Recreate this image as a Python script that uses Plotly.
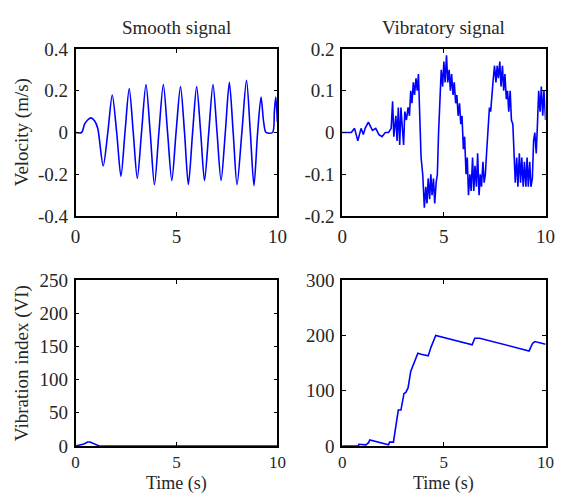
import plotly.graph_objects as go

# ---------------- data ----------------
t_smooth = [0, 0.3, 0.45, 0.6, 0.77, 0.95, 1.1, 1.37, 1.6, 1.82, 2.04, 2.25, 2.45, 2.66, 2.86,
            3.06, 3.27, 3.49, 3.70, 3.91, 4.13, 4.35, 4.56, 4.77, 4.98, 5.2, 5.4, 5.59, 5.8,
            6.0, 6.2, 6.39, 6.6, 6.81, 7.01, 7.21, 7.42, 7.62, 7.81, 8.0, 8.24, 8.47, 8.66,
            8.84, 9.02, 9.19, 9.32, 9.44, 9.76, 9.85, 9.92, 10]
v_smooth = [0, 0, 0.04, 0.06, 0.07, 0.055, 0.02, -0.16, 0, 0.18, 0, -0.21, 0, 0.21, 0,
            -0.22, 0, 0.23, 0, -0.25, 0, 0.23, 0, -0.23, 0, 0.22, 0, -0.25, 0,
            0.22, 0, -0.23, 0, 0.23, 0, -0.23, 0, 0.24, 0, -0.25, 0, 0.25, 0,
            -0.255, 0, 0.17, 0.05, 0, 0, 0.1, 0.17, 0.05]

t_vib = [0, 0.45, 0.61, 0.77, 0.93, 1.04, 1.13, 1.29, 1.49, 1.65, 1.81, 1.96, 2.12, 2.28, 2.41,
         2.48, 2.54, 2.64, 2.70, 2.76, 2.83, 2.89, 2.96, 3.02, 3.08, 3.16, 3.24, 3.31, 3.37,
         3.43, 3.50, 3.56, 3.63, 3.69, 3.75, 3.79, 3.88, 3.96, 4.04, 4.11, 4.17, 4.23, 4.30,
         4.36, 4.42, 4.49, 4.55, 4.62, 4.68, 4.74, 4.81, 4.87, 4.94, 5.0, 5.06, 5.13, 5.19,
         5.26, 5.32, 5.38, 5.45, 5.51, 5.58, 5.64, 5.70, 5.77, 5.83, 5.89, 5.96, 6.02, 6.09,
         6.15, 6.21, 6.28, 6.34, 6.41, 6.47, 6.53, 6.60, 6.66, 6.73, 6.79, 6.85, 6.92, 6.98,
         7.04, 7.11, 7.17, 7.24, 7.30, 7.36, 7.43, 7.49, 7.56, 7.62, 7.68, 7.75, 7.81, 7.88,
         7.94, 8.0, 8.07, 8.13, 8.19, 8.26, 8.32, 8.39, 8.45, 8.51, 8.58, 8.64, 8.71, 8.77,
         8.83, 8.90, 8.96, 9.03, 9.09, 9.15, 9.22, 9.28, 9.35, 9.41, 9.47, 9.54, 9.60, 9.66,
         9.73, 9.79, 9.86, 9.92, 10]
v_vib = [0, 0, 0.01, -0.02, 0.01, -0.005, 0.01, 0.025, 0.005, 0.01, -0.005, -0.01, 0.0, 0.0, 0.01,
         0.075, -0.01, 0.04, -0.02, 0.06, -0.03, 0.06, 0.01, -0.03, 0.05, 0.03, 0.06, 0.04, 0.1,
         0.07, 0.12, 0.09, 0.13, 0.1, 0.14, 0.09, -0.06, -0.1, -0.18, -0.13, -0.17, -0.11, -0.16,
         -0.1, -0.15, -0.11, -0.17, -0.12, -0.1, 0.0, 0.1, 0.15, 0.11, 0.17, 0.12, 0.185, 0.12,
         0.15, 0.1, 0.14, 0.09, 0.12, 0.07, 0.09, 0.04, 0.07, 0.02, 0.04, -0.04, -0.01, -0.1,
         -0.06, -0.15, -0.1, -0.14, -0.06, -0.14, -0.08, -0.13, -0.05, -0.15, -0.1, -0.13, -0.07, -0.12,
         -0.1, -0.04, 0.01, 0.06, 0.05, 0.1, 0.13, 0.16, 0.12, 0.16, 0.13, 0.17, 0.11, 0.16,
         0.1, 0.14, 0.08, 0.1, 0.05, 0.1, 0.03, 0.02, -0.05, -0.12, -0.06, -0.13, -0.05, -0.12,
         -0.06, -0.13, -0.07, -0.13, -0.06, -0.13, -0.07, -0.13, -0.11, -0.02, 0.0, -0.05, 0.02, 0.1,
         0.05, 0.11, 0.04, 0.1, 0.03]

t_vi_smooth = [0, 0.42, 0.6, 0.72, 1.17, 10]
vi_smooth = [0, 3, 6, 6, 0, 0]

t_vi_vib = [0, 0.8, 0.82, 1.09, 1.17, 1.3, 1.36, 2.28, 2.33, 2.52, 2.76, 2.89, 3.04, 3.13, 3.24,
            3.37, 3.56, 3.72, 3.88, 4.23, 4.36, 4.6, 6.39, 6.52, 6.76, 9.19, 9.35, 9.47, 10]
vi_vib = [0, 0, 3, 3, 2, 6, 11, 2, 7, 7, 65, 65, 95, 97, 105,
          135, 155, 168, 166, 163, 178, 200, 183, 195, 195, 172, 185, 189, 184]

x_ticks = [0, 5, 10]
y_ticks_smooth = [-0.4, -0.2, 0, 0.2, 0.4]
y_ticks_vib = [-0.2, -0.1, 0, 0.1, 0.2]
y_ticks_vi_smooth = [0, 50, 100, 150, 200, 250]
y_ticks_vi_vib = [0, 100, 200, 300]

titles = ["Smooth signal", "Vibratory signal"]

# ---------------- figure ----------------
W, H = 566, 502
FONT = "Liberation Serif, Times New Roman, serif"
FS = 19
FSB = 17
TXT = "#262626"
BLUE = "#0000ff"

def lab(v):
    return "%g" % v

fig = go.Figure()
fig.add_trace(go.Scatter(x=t_smooth, y=v_smooth, mode="lines", xaxis="x", yaxis="y",
                         line=dict(color=BLUE, width=1.6, shape="spline", smoothing=0.8)))
fig.add_trace(go.Scatter(x=t_vib, y=v_vib, mode="lines", xaxis="x2", yaxis="y2",
                         line=dict(color=BLUE, width=1.6)))
fig.add_trace(go.Scatter(x=t_vi_smooth, y=vi_smooth, mode="lines", xaxis="x3", yaxis="y3",
                         line=dict(color=BLUE, width=1.6)))
fig.add_trace(go.Scatter(x=t_vi_vib, y=vi_vib, mode="lines", xaxis="x4", yaxis="y4",
                         line=dict(color=BLUE, width=1.6)))

xl = [72.3 / W, 279.3 / W]
xr = [345.7 / W, 554.3 / W]
yt = [(H - 215) / H, (H - 40.7) / H]
yb = [(H - 455) / H, (H - 282) / H]

def xax(dom, anchor, standoff, fs):
    return dict(domain=dom, anchor=anchor, range=[0, 10], tickvals=x_ticks,
                ticktext=[lab(v) for v in x_ticks], ticks="inside", ticklen=4,
                tickcolor="black", showline=True, linecolor="black", linewidth=1.5,
                mirror="ticks", showgrid=False, zeroline=False, ticklabelstandoff=standoff,
                tickfont=dict(family=FONT, size=fs, color=TXT))

def yax(dom, anchor, rng, ticks):
    return dict(domain=dom, anchor=anchor, range=rng, tickvals=ticks,
                ticktext=[lab(v) for v in ticks], ticks="inside", ticklen=4,
                tickcolor="black", showline=True, linecolor="black", linewidth=1.5,
                mirror="ticks", showgrid=False, zeroline=False, ticklabelstandoff=2,
                tickfont=dict(family=FONT, size=FS, color=TXT))

fig.update_layout(
    width=W, height=H, margin=dict(l=0, r=0, t=0, b=0),
    paper_bgcolor="white", plot_bgcolor="white", showlegend=False,
    xaxis=xax(xl, "y", 2, FS), yaxis=yax(yt, "x", [-0.4, 0.4], y_ticks_smooth),
    xaxis2=xax(xr, "y2", 2, FS), yaxis2=yax(yt, "x2", [-0.2, 0.2], y_ticks_vib),
    xaxis3=xax(xl, "y3", 0, FSB), yaxis3=yax(yb, "x3", [0, 250], y_ticks_vi_smooth),
    xaxis4=xax(xr, "y4", 0, FSB), yaxis4=yax(yb, "x4", [0, 300], y_ticks_vi_vib),
)

def ann(text, x, y, angle=0):
    fig.add_annotation(text=text, x=x / W, y=1 - y / H, xref="paper", yref="paper",
                       showarrow=False, textangle=angle, xanchor="center", yanchor="middle",
                       font=dict(family=FONT, size=FS, color=TXT))

ann(titles[0], 176, 18)
ann(titles[1], 450, 18)
ann("Velocity (m/s)", 17, 128, -90)
ann("Vibration index (VI)", 17, 369, -90)
for cx in (176, 450):
    fig.add_annotation(text="Time (s)", x=cx / W, y=0, xref="paper", yref="paper",
                       showarrow=False, xanchor="center", yanchor="bottom", borderpad=0,
                       yshift=-4, font=dict(family=FONT, size=FSB + 1, color=TXT))

fig.write_html("out.html")
